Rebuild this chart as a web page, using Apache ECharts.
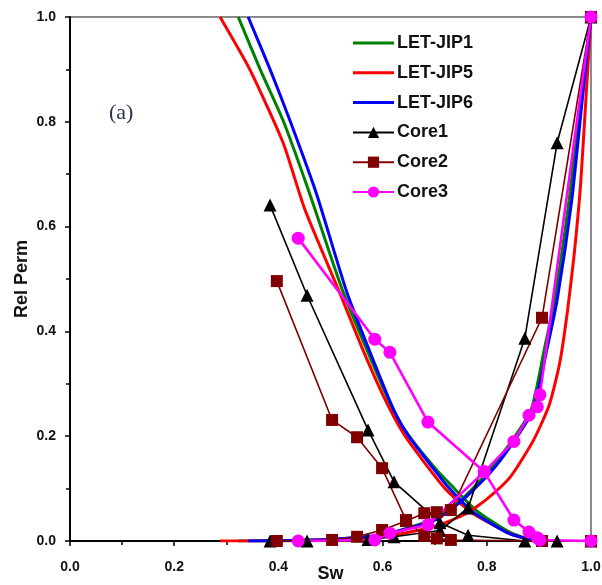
<!DOCTYPE html>
<html><head><meta charset="utf-8">
<script src="https://cdn.jsdelivr.net/npm/echarts@6/dist/echarts.min.js"></script>
<style>html,body{margin:0;padding:0;background:#fff}#c{width:602px;height:585px}</style>
</head><body><div id="c"></div>
<script>
// ---- data (Sw, kr) ----
const jip1Kro = [[0.323,1],[0.365,0.9],[0.41,0.8],[0.461,0.66],[0.525,0.473],[0.592,0.313],[0.625,0.24],[0.655,0.195],[0.7,0.14],[0.73,0.108],[0.78,0.058],[0.84,0.019],[0.87,0.007],[0.9,0]];
const jip1Krw = [[0.323,0],[0.5,0.003],[0.6,0.012],[0.7,0.042],[0.75,0.078],[0.8,0.13],[0.84,0.18],[0.885,0.25],[0.91,0.364],[0.93,0.46],[0.958,0.65],[0.98,0.84],[1,1]];
const jip5Kro = [[0.288,1],[0.345,0.9],[0.409,0.76],[0.451,0.632],[0.518,0.473],[0.56,0.37],[0.6,0.28],[0.64,0.205],[0.68,0.15],[0.72,0.1],[0.77,0.055],[0.84,0.016],[0.87,0.006],[0.9,0]];
const jip5Krw = [[0.288,0],[0.45,0.001],[0.6,0.008],[0.7,0.028],[0.76,0.052],[0.8,0.08],[0.845,0.122],[0.89,0.193],[0.92,0.26],[0.94,0.34],[0.955,0.44],[0.968,0.55],[0.98,0.68],[0.99,0.84],[1,1]];
const jip6Kro = [[0.342,1],[0.384,0.9],[0.422,0.803],[0.474,0.66],[0.532,0.473],[0.595,0.313],[0.624,0.245],[0.65,0.2],[0.7,0.135],[0.724,0.105],[0.774,0.055],[0.839,0.016],[0.87,0.006],[0.9,0]];
const jip6Krw = [[0.342,0],[0.5,0.003],[0.6,0.012],[0.7,0.04],[0.75,0.075],[0.806,0.13],[0.845,0.18],[0.889,0.25],[0.915,0.364],[0.935,0.46],[0.963,0.65],[0.983,0.84],[1,1]];

const core1Sw  = [0.384,0.455,0.572,0.622,0.71,0.764,0.873,0.935,1.0];
const core1Krw = [0,0,0.003,0.008,0.02,0.063,0.387,0.76,1.0];
const core1Kro = [0.641,0.469,0.212,0.113,0.035,0.011,0,0,0];

const core2Sw  = [0.397,0.503,0.551,0.599,0.645,0.68,0.704,0.731,0.906,1.0];
const core2Krw = [0,0.002,0.008,0.021,0.038,0.053,0.055,0.059,0.426,1.0];
const core2Kro = [0.496,0.231,0.198,0.139,0.04,0.01,0.005,0.002,0,0];

const core3Sw  = [0.438,0.585,0.614,0.687,0.795,0.852,0.881,0.897,0.902,1.0];
const core3Krw = [0,0.002,0.015,0.031,0.132,0.19,0.24,0.256,0.279,1.0];
const core3Kro = [0.578,0.385,0.36,0.227,0.132,0.04,0.017,0.006,0.002,0];

const legendNames = ['LET-JIP1','LET-JIP5','LET-JIP6','Core1','Core2','Core3'];
const xTickStep = 0.2, yTickStep = 0.2;

function pairs(xs, ys){ return xs.map((x,i)=>[x, ys[i]]); }

const chart = echarts.init(document.getElementById('c'));
const FONT = '"Liberation Sans", Arial, sans-serif';
const LINE_ICON = 'path://M0,0H41V3H0Z';

function letSeries(name, color, data){
  return {name, type:'line', data, symbol:'none', smooth:0.2, clip:true,
    lineStyle:{color, width:3}, itemStyle:{color}, z:2};
}
function coreSeries(name, color, symbol, size, width, data){
  return {name, type:'line', data, symbol, symbolSize:size, clip:false,
    lineStyle:{color, width}, itemStyle:{color}, z:3};
}

chart.setOption({
  animation:false,
  backgroundColor:'#fff',
  grid:{left:70, right:11, top:17, bottom:44, outerBoundsMode:'none', containLabel:false,
    show:true, borderColor:'#8a8a8a', borderWidth:2},
  legend:{
    orient:'vertical', left:352, top:34, padding:0, itemWidth:41, itemHeight:14, itemGap:11.8,
    textStyle:{fontFamily:FONT, fontWeight:'bold', fontSize:18, lineHeight:17, color:'#111', padding:[0,0,0,-2]},
    data:legendNames.map((n,i)=> i<3 ? {name:n, icon:LINE_ICON} : {name:n})
  },
  xAxis:{
    type:'value', min:0, max:1, interval:xTickStep,
    name:'Sw', nameLocation:'middle', nameGap:24, nameMoveOverlap:false,
    nameTextStyle:{fontFamily:FONT, fontWeight:'bold', fontSize:18, color:'#111'},
    axisLine:{lineStyle:{color:'#000', width:2}},
    axisTick:{length:5, lineStyle:{color:'#000', width:1.5}},
    minorTick:{show:true, splitNumber:2, length:4, lineStyle:{color:'#000', width:1.5}},
    splitLine:{show:false},
    axisLabel:{fontFamily:FONT, fontWeight:'bold', fontSize:14, color:'#111', margin:19,
      formatter:v=>v.toFixed(1)}
  },
  yAxis:{
    type:'value', min:0, max:1, interval:yTickStep,
    name:'Rel Perm', nameLocation:'middle', nameGap:39, nameMoveOverlap:false,
    nameTextStyle:{fontFamily:FONT, fontWeight:'bold', fontSize:18, color:'#111'},
    axisLine:{lineStyle:{color:'#000', width:2}},
    axisTick:{length:5, lineStyle:{color:'#000', width:1.5}},
    minorTick:{show:true, splitNumber:2, length:4, lineStyle:{color:'#000', width:1.5}},
    splitLine:{show:false},
    axisLabel:{fontFamily:FONT, fontWeight:'bold', fontSize:14, color:'#111', margin:14,
      formatter:v=>v.toFixed(1)}
  },
  graphic:[{type:'text', left:109, top:102, z:10,
    style:{text:'(a)', font:'22px "Liberation Serif", "Times New Roman", serif', fill:'#2a3350'}}],
  series:[
    letSeries('LET-JIP1','#008000', jip1Kro),
    letSeries('LET-JIP1','#008000', jip1Krw),
    letSeries('LET-JIP5','#ff0000', jip5Kro),
    letSeries('LET-JIP5','#ff0000', jip5Krw),
    letSeries('LET-JIP6','#0000ff', jip6Kro),
    letSeries('LET-JIP6','#0000ff', jip6Krw),
    coreSeries('Core1','#000000','triangle',13,1.6, pairs(core1Sw, core1Krw)),
    coreSeries('Core1','#000000','triangle',13,1.6, pairs(core1Sw, core1Kro)),
    coreSeries('Core2','#800000','rect',12,1.6, pairs(core2Sw, core2Krw)),
    coreSeries('Core2','#800000','rect',12,1.6, pairs(core2Sw, core2Kro)),
    coreSeries('Core3','#ff00ff','circle',13,2.6, pairs(core3Sw, core3Krw)),
    coreSeries('Core3','#ff00ff','circle',13,2.6, pairs(core3Sw, core3Kro))
  ]
});
</script></body></html>
